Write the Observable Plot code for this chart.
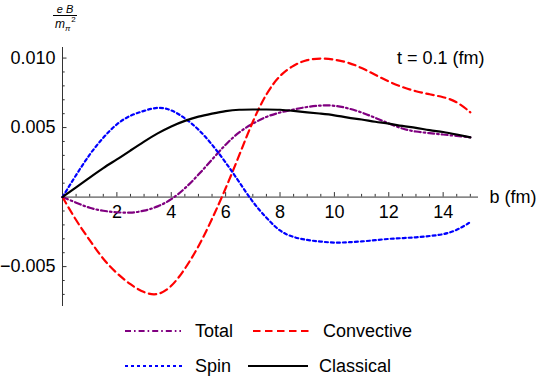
<!DOCTYPE html>
<html><head><meta charset="utf-8">
<script src="https://cdn.jsdelivr.net/npm/d3@7"></script>
<script src="https://cdn.jsdelivr.net/npm/@observablehq/plot@0.6"></script>
<style>
body{margin:0;background:#fff;}
#wrap{position:relative;width:542px;height:388px;font-family:"Liberation Sans",Arial,sans-serif;background:#fff;}
#chart{position:absolute;left:0;top:0;}
#overlay{position:absolute;left:0;top:0;pointer-events:none;}
</style></head><body>
<div id="wrap"><div id="chart"></div><svg id="overlay" width="542" height="388"></svg></div>
<script>
// ---- data ----
const b = [0,0.5,1,1.5,2,2.5,3,3.5,4,4.5,5,5.5,6,6.5,7,7.5,8,8.5,9,9.5,10,10.5,11,11.5,12,12.5,13,13.5,14,14.5,15];
const total = [0,-0.0004,-0.0008,-0.0010,-0.0011,-0.00115,-0.0010,-0.0007,-0.0002,0.0006,0.0016,0.0027,0.0038,0.0047,0.0053,0.0058,0.0061,0.0063,0.0065,0.0066,0.0066,0.0064,0.0061,0.0057,0.0053,0.0049,0.0047,0.0046,0.0045,0.0044,0.0043];
const convective = [0,-0.0017,-0.0031,-0.0045,-0.0055,-0.0063,-0.0069,-0.0071,-0.0065,-0.0052,-0.0036,-0.0016,0.0006,0.0030,0.0055,0.0075,0.0088,0.0095,0.0099,0.0100,0.0099,0.0097,0.0093,0.0088,0.0083,0.0079,0.0076,0.0074,0.0072,0.0069,0.0061];
const spin = [0,0.0016,0.0031,0.0043,0.0053,0.0059,0.0062,0.0065,0.0063,0.0057,0.0049,0.0038,0.0025,0.0011,-0.0004,-0.0015,-0.0025,-0.0029,-0.0031,-0.0032,-0.0033,-0.00325,-0.0032,-0.0031,-0.0030,-0.00295,-0.0029,-0.0028,-0.0027,-0.0024,-0.0018];
const classical = [0,0.0007,0.0014,0.0021,0.0027,0.00335,0.0040,0.0046,0.0051,0.0055,0.0058,0.0060,0.0062,0.0063,0.0063,0.0063,0.0063,0.0062,0.0061,0.0060,0.0059,0.0057,0.0056,0.0054,0.0053,0.0051,0.0050,0.0048,0.0047,0.0045,0.0043];

const seriesNames = ["Total","Convective","Spin","Classical"];
const seriesColors = ["#800080","#ff0000","#0000ff","#000000"];
const seriesDash = ["6,3,1.6,3","7.5,4.5","3,3","none"];

const xMajor = [2,4,6,8,10,12,14];
const xMinor = [0.5,1,1.5,2.5,3,3.5,4.5,5,5.5,6.5,7,7.5,8.5,9,9.5,10.5,11,11.5,12.5,13,13.5,14.5,15];
const yMajor = [-0.005,0.005,0.010];
const yMinor = [-0.007,-0.006,-0.004,-0.003,-0.002,-0.001,0.001,0.002,0.003,0.004,0.006,0.007,0.008,0.009];
const xDomain = [0, 15.3];
const yDomain = [-0.00787, 0.01076];

// ---- layout ----
const W = 542, H = 312, mL = 62, mR = 64, mT = 47, mB = 6;
const pxPerX = (W - mL - mR) / (xDomain[1] - xDomain[0]);
const pxPerY = (H - mT - mB) / (yDomain[1] - yDomain[0]);
const majorLen = 4.5, minorLen = 2.7;
const axisColor = "#333";
const FS = 18;

const rows = b.map((v, i) => ({b: v, Total: total[i], Convective: convective[i], Spin: spin[i], Classical: classical[i]}));
const fmtY = d3.format(".3f");

const lineMarks = seriesNames.map((name, k) => Plot.line(rows, {
  x: "b", y: name, stroke: seriesColors[k], strokeWidth: 2.2,
  strokeDasharray: seriesDash[k] === "none" ? null : seriesDash[k],
  curve: "basis"
}));

const chart = Plot.plot({
  width: W, height: H,
  marginLeft: mL, marginRight: mR, marginTop: mT, marginBottom: mB,
  x: {domain: xDomain, axis: null},
  y: {domain: yDomain, axis: null},
  style: {fontFamily: "'Liberation Sans', Arial, sans-serif", fontSize: FS + "px", background: "white", color: "black", overflow: "visible"},
  marks: [
    Plot.ruleY([0], {stroke: axisColor, strokeWidth: 1}),
    Plot.ruleX([0], {stroke: axisColor, strokeWidth: 1}),
    Plot.ruleX(xMajor, {x: d => d, y1: 0, y2: majorLen / pxPerY, stroke: axisColor}),
    Plot.ruleX(xMinor, {x: d => d, y1: 0, y2: minorLen / pxPerY, stroke: axisColor}),
    Plot.ruleY(yMajor, {y: d => d, x1: 0, x2: majorLen / pxPerX, stroke: axisColor}),
    Plot.ruleY(yMinor, {y: d => d, x1: 0, x2: minorLen / pxPerX, stroke: axisColor}),
    Plot.text(xMajor, {x: d => d, y: 0, dy: 15.5, text: d => String(d), fontSize: FS, fill: "black"}),
    Plot.text(yMajor, {x: 0, y: d => d, dx: -7, textAnchor: "end", text: d => fmtY(d), fontSize: FS, fill: "black"}),
    Plot.text(["b (fm)"], {x: xDomain[1], y: 0, dx: 11, textAnchor: "start", text: d => d, fontSize: FS, fill: "black"}),
    ...lineMarks
  ]
});
document.getElementById("chart").appendChild(chart);

// ---- annotations & legend ----
const ov = d3.select("#overlay");
const ff = "'Liberation Sans', Arial, sans-serif";
// y-axis label: eB / m_pi^2
const lab = ov.append("g").attr("font-family", ff).attr("fill", "black");
lab.append("text").attr("x", 65).attr("y", 13).attr("text-anchor", "middle").attr("font-size", 11).attr("font-style", "italic").text("e B");
lab.append("line").attr("x1", 53).attr("x2", 77).attr("y1", 15.5).attr("y2", 15.5).attr("stroke", "black").attr("stroke-width", 1);
const den = lab.append("text").attr("x", 55).attr("y", 28).attr("font-size", 12).attr("font-style", "italic");
den.append("tspan").text("m");
den.append("tspan").attr("font-size", 8).attr("dy", 3).text("π");
den.append("tspan").attr("font-size", 8).attr("font-style", "normal").attr("dy", -9).attr("dx", 1).text("2");

ov.append("text").attr("x", 397).attr("y", 64).attr("font-family", ff).attr("font-size", FS).attr("fill", "black").text("t = 0.1 (fm)");

const legendItems = [
  {k: 0, x1: 125, x2: 181, tx: 195, y: 331},
  {k: 1, x1: 253, x2: 309, tx: 323, y: 331},
  {k: 2, x1: 125, x2: 182, tx: 195, y: 366},
  {k: 3, x1: 248, x2: 308, tx: 319, y: 366}
];
legendItems.forEach(it => {
  const l = ov.append("line").attr("x1", it.x1).attr("x2", it.x2).attr("y1", it.y).attr("y2", it.y)
    .attr("stroke", seriesColors[it.k]).attr("stroke-width", 2.2);
  if (seriesDash[it.k] !== "none") l.attr("stroke-dasharray", seriesDash[it.k]);
  ov.append("text").attr("x", it.tx).attr("y", it.y).attr("dy", "0.35em").attr("font-family", ff)
    .attr("font-size", FS).attr("fill", "black").text(seriesNames[it.k]);
});
</script>
</body></html>
